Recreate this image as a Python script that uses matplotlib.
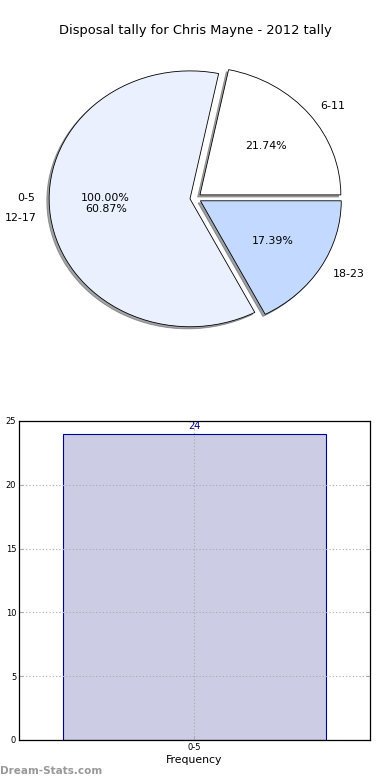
import numpy as np
import matplotlib
matplotlib.use("Agg")
import matplotlib.pyplot as plt

# Dados
faixas = ['0-5', '6-11', '12-17', '18-23']
valores_pie = [0, 5, 14, 4]
pct_0_5 = '100.00%'
cores_pie = ['#ffffff', '#ffffff', '#eaf0fe', '#c4d9ff']

barra_labels = ['0-5']
barra_valores = [24]

titulo = "Disposal tally for Chris Mayne - 2012 tally"

fig = plt.figure(figsize=(3.9, 7.8), dpi=100)

# Pizza (aspecto "esticado" como no original)
ax1 = fig.add_axes([0.050, 0.541, 0.903, 0.410])
explode = 0.04
wedges, texts, autotexts = ax1.pie(
    valores_pie[1:], labels=faixas[1:], colors=cores_pie[1:],
    autopct='%1.2f%%', explode=[explode] * 3, startangle=0,
    wedgeprops={'edgecolor': 'black', 'linewidth': 0.6},
    shadow={'ox': -0.012, 'oy': -0.012, 'shade': 0.7},
    textprops={'fontsize': 7.9})
# fatia vazia 0-5 (rótulos no ângulo de 180 graus)
ang = np.deg2rad(180)
cx, cy = explode * np.cos(ang), explode * np.sin(ang)
ax1.text(cx + 1.1 * np.cos(ang), cy + 1.1 * np.sin(ang), faixas[0],
         ha='right', va='center', fontsize=7.9)
ax1.text(cx + 0.6 * np.cos(ang), cy + 0.6 * np.sin(ang), pct_0_5,
         ha='center', va='center', fontsize=7.9)
ax1.set_aspect('auto')
ax1.set_xlim(-1.25, 1.25)
ax1.set_ylim(-1.25, 1.25)
fig.text(0.5, 0.961, titulo, ha='center', va='center', fontsize=9.4)

# Barras
ax2 = fig.add_axes([0.0487, 0.0513, 0.9, 0.409])
x = np.arange(len(barra_labels))
barras = ax2.bar(x, barra_valores, width=0.8, color='#ccccE5',
                 edgecolor='#00008b', linewidth=0.8)
for b, v in zip(barras, barra_valores):
    ax2.text(b.get_x() + b.get_width() / 2, v + 0.2, str(v),
             ha='center', va='bottom', fontsize=7, color='#00008b')
ax2.set_xlim(-0.532, 0.532)
ax2.set_ylim(0, 25)
ax2.set_yticks([0, 5, 10, 15, 20, 25])
ax2.set_xticks(x)
ax2.set_xticklabels(barra_labels)
ax2.tick_params(labelsize=6, direction='in', right=True, length=3,
                color='#aaaaaa', pad=2)
ax2.grid(True, linestyle=(0, (1, 2)), color='#aaaaaa', linewidth=0.8)
ax2.set_axisbelow(False)
ax2.set_xlabel("Frequency", fontsize=7.8, labelpad=2)
ax2.set_ylabel("Disposal Tally", fontsize=7)
ax2.yaxis.set_label_coords(-0.062, 0.5)
for s in ax2.spines.values():
    s.set_linewidth(0.9)
    s.set_zorder(3)

fig.text(0.0, 0.012, "Dream-Stats.com", ha='left', va='center',
         fontsize=7.5, fontweight='bold', color='#999999')

fig.savefig('out.png', dpi=100)
